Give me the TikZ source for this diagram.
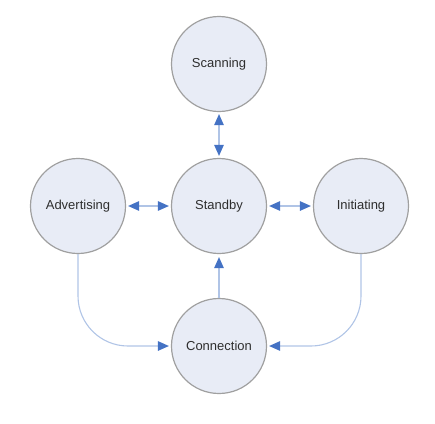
\documentclass[tikz,border=0pt]{standalone}
\usepackage{fontspec}
\setmainfont{Liberation Sans}
\usetikzlibrary{arrows.meta}
\definecolor{circfill}{HTML}{E8ECF6}
\definecolor{circline}{HTML}{A0A0A0}
\definecolor{linkline}{HTML}{B0C4E6}
\definecolor{tipcol}{HTML}{4472C4}
\definecolor{txtcol}{HTML}{2E2E2E}
\begin{document}
\begin{tikzpicture}[x=1pt,y=-1pt,
  state/.style={circle,draw=circline,line width=1.2pt,fill=circfill,minimum size=95pt,inner sep=0pt,
    text=txtcol,font=\fontsize{13}{15}\selectfont},
  tip/.style={Triangle[length=11pt,width=9.5pt,color=tipcol]},
  link/.style={draw=linkline,line width=1.1pt,{Triangle[length=11pt,width=9.5pt,color=tipcol]}-{Triangle[length=11pt,width=9.5pt,color=tipcol]},shorten <=2pt,shorten >=2pt},
  onelink/.style={draw=linkline,line width=1.1pt,-{Triangle[length=11pt,width=9.5pt,color=tipcol]},shorten >=2pt}]
\useasboundingbox (0,0) rectangle (435,423);
\node[state] (scan) at (219,64) {Scanning};
\node[state] (stby) at (219,206) {Standby};
\node[state] (adv) at (78,206) {Advertising};
\node[state] (init) at (361,206) {Initiating};
\node[state] (conn) at (219,346) {Connection};
\draw[link] (scan) -- (stby);
\draw[link] (adv) -- (stby);
\draw[link] (stby) -- (init);
\draw[onelink,shorten >=3pt] (conn) -- (stby);
\draw[onelink,rounded corners=50pt] (adv.south) |- (conn.west);
\draw[onelink,rounded corners=50pt] (init.south) |- (conn.east);
\end{tikzpicture}
\end{document}
